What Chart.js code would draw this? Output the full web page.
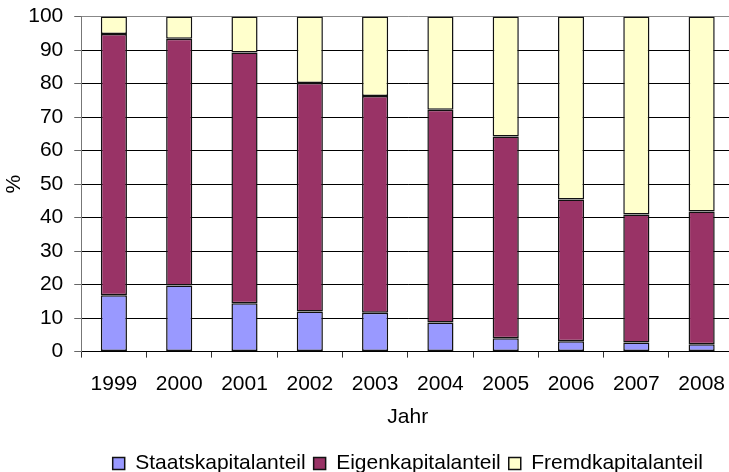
<!DOCTYPE html>
<html>
<head>
<meta charset="utf-8">
<script src="https://cdn.jsdelivr.net/npm/chart.js@4"></script>
<style>
  html, body { margin: 0; padding: 0; background: #fff; overflow: hidden; }
  /* canvas a bit larger than the window: the plot in the original runs past the right edge */
  #wrap { width: 739px; height: 479px; margin-top: -7px; }
</style>
</head>
<body>
<div id="wrap"><canvas id="chart"></canvas></div>
<script>
// values (%)
const jahre = ['1999', '2000', '2001', '2002', '2003', '2004', '2005', '2006', '2007', '2008'];
const staatskapital = [16.8, 19.7, 14.4, 12.0, 11.6, 8.7, 4.0, 3.1, 2.7, 2.2];
const eigenkapital = [78.0, 73.7, 74.9, 68.2, 64.7, 63.5, 60.2, 42.3, 38.2, 39.6];
const fremdkapital = [5.2, 6.6, 10.7, 19.8, 23.7, 27.8, 35.8, 54.6, 59.1, 58.2];
const yTicks = [0, 10, 20, 30, 40, 50, 60, 70, 80, 90, 100];

const font = { family: 'Liberation Sans, Arial, sans-serif', size: 21 };

const ds = (label, data, color) => ({
  label: label,
  data: data,
  backgroundColor: color,
  borderColor: '#111',
  borderWidth: 1.5,
  borderSkipped: false,
  barPercentage: 0.4,
  categoryPercentage: 1
});

const ctx = document.getElementById('chart').getContext('2d');
new Chart(ctx, {
  type: 'bar',
  data: {
    labels: jahre,
    datasets: [
      ds('Staatskapitalanteil', staatskapital, '#9999ff'),
      ds('Eigenkapitalanteil', eigenkapital, '#993366'),
      ds('Fremdkapitalanteil', fremdkapital, '#ffffcc')
    ]
  },
  options: {
    responsive: true,
    maintainAspectRatio: false,
    animation: false,
    layout: { padding: { left: 2, right: 0, top: 0, bottom: -12 } },
    scales: {
      x: {
        stacked: true,
        grid: { offset: true, drawOnChartArea: false, drawTicks: true, tickLength: 6, color: '#333' },
        border: { color: '#000' },
        ticks: { color: '#000', font: font, padding: 14 },
        title: { display: true, text: 'Jahr', color: '#000', font: font, padding: { top: -6, bottom: 15 } }
      },
      y: {
        stacked: true,
        min: 0,
        max: 100,
        afterBuildTicks: (axis) => { axis.ticks = yTicks.map(v => ({ value: v })); },
        grid: { color: (c) => c.tick && c.tick.value === 100 ? '#888' : '#000', tickLength: 7, tickColor: '#666' },
        border: { color: '#777' },
        ticks: { color: '#000', font: font, padding: 11 },
        title: { display: true, text: '%', color: '#000', font: font, padding: { top: 0, bottom: -10 } }
      }
    },
    plugins: {
      legend: {
        position: 'bottom',
        fullSize: false,
        labels: {
          color: '#000',
          font: font,
          boxWidth: 12,
          boxHeight: 12,
          padding: 8
        }
      },
      tooltip: { enabled: false }
    }
  }
});
</script>
</body>
</html>
